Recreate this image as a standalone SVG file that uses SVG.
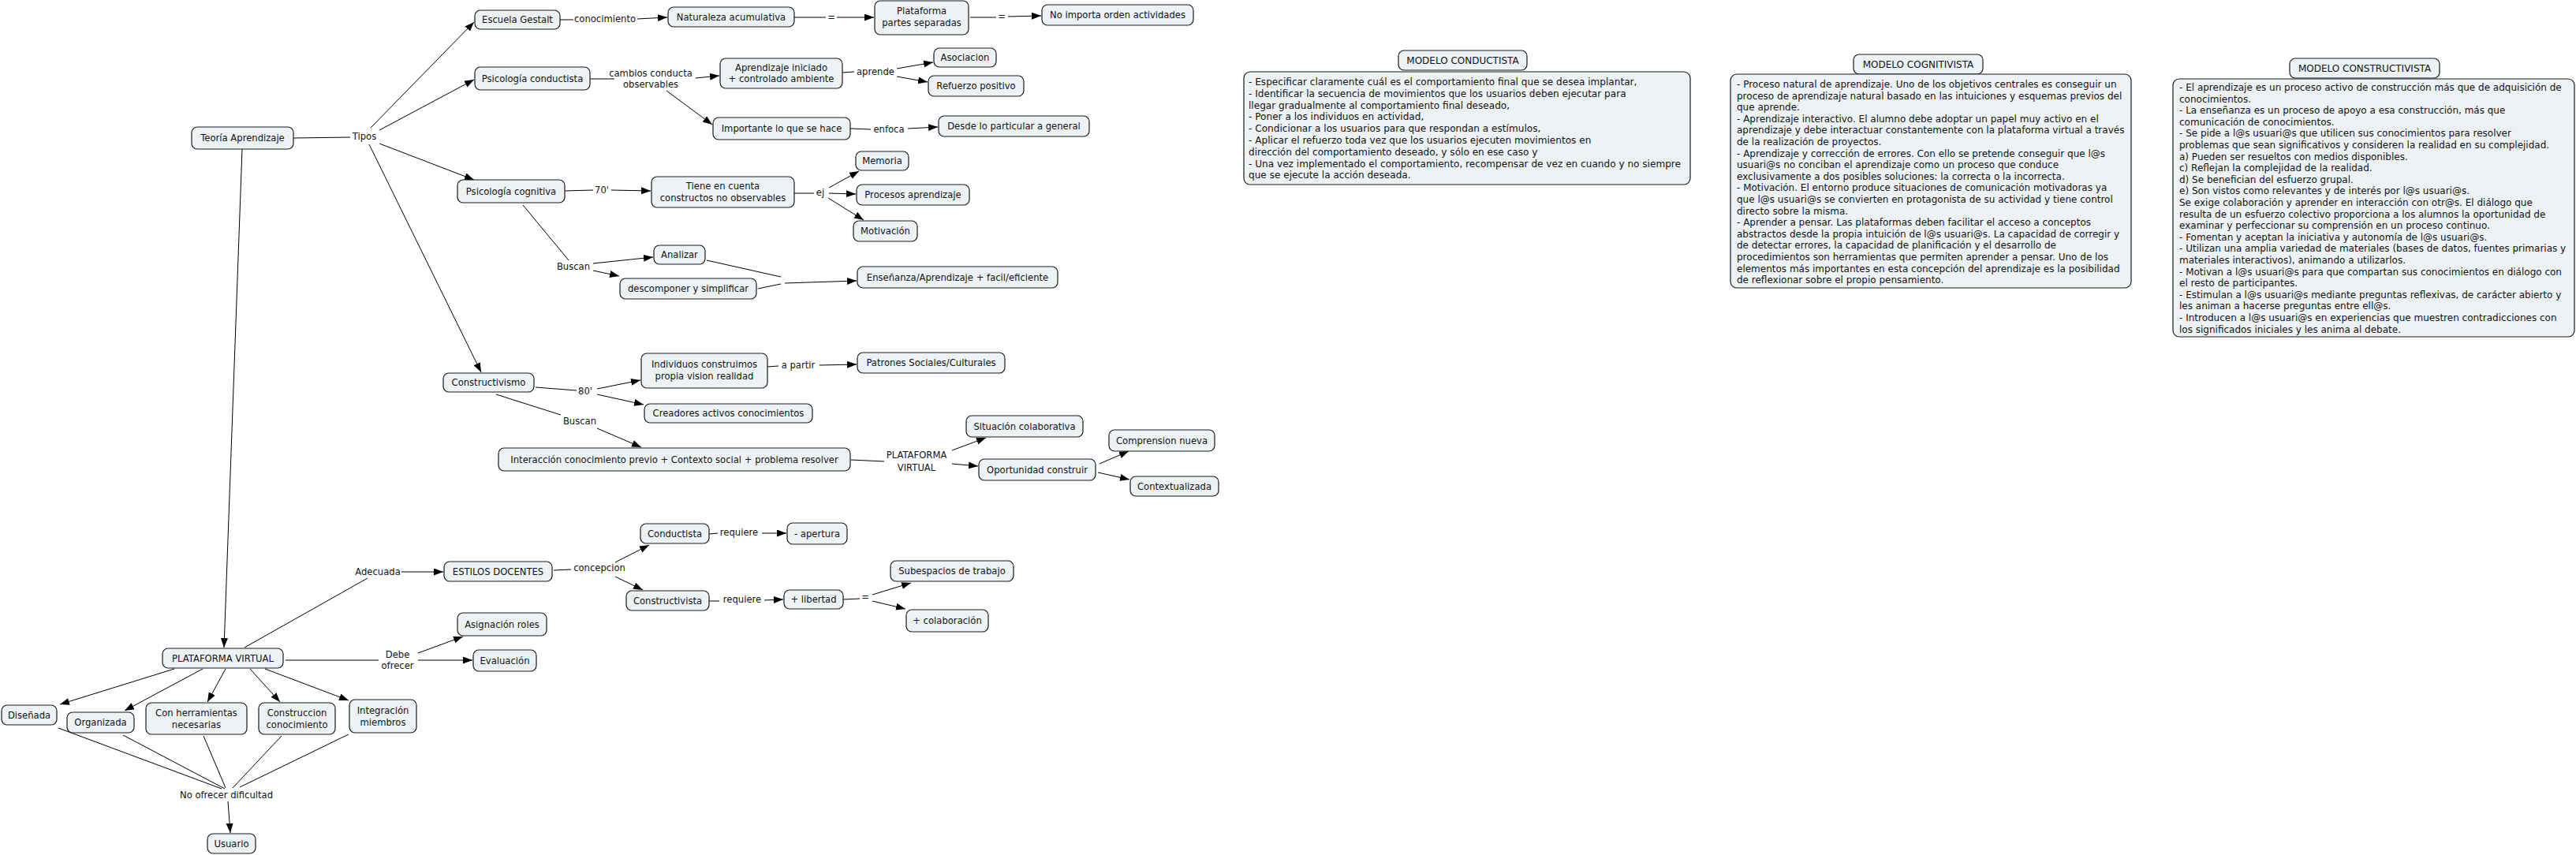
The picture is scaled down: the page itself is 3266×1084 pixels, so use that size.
<svg xmlns="http://www.w3.org/2000/svg" width="3266" height="1084" viewBox="0 0 3266 1084">
<defs>
<marker id="ah" markerUnits="userSpaceOnUse" markerWidth="13" markerHeight="10" refX="12" refY="4.5" orient="auto"><path d="M0,0 L12,4.5 L0,9 z" fill="#000"/></marker>
<style>
.n rect{fill:#edf3f5;stroke:#1a1a1a;stroke-width:1.2}
text{font-family:"DejaVu Sans",Verdana,sans-serif;fill:#111}
.n text,.l{font-size:11.6px;text-anchor:middle;dominant-baseline:central}
.n text.m{font-size:12px}
.n text.bt{font-size:12px;text-anchor:start}
.n text.bt2{font-size:12.1px;text-anchor:start}
#connectors line{stroke:#000;stroke-width:1}
#connectors .a{marker-end:url(#ah)}
</style>
</defs>
<rect width="3266" height="1084" fill="#fff"/>
<g id="connectors">
<line x1="372" y1="175" x2="444" y2="174"/>
<line x1="710" y1="25" x2="727" y2="25"/>
<line x1="1007" y1="22" x2="1047" y2="22"/>
<line x1="1230" y1="22" x2="1263" y2="22"/>
<line x1="748" y1="100" x2="779" y2="100"/>
<line x1="1068" y1="92" x2="1083" y2="91"/>
<line x1="1078" y1="163" x2="1104" y2="164"/>
<line x1="716" y1="242" x2="752" y2="241"/>
<line x1="1007" y1="245" x2="1032" y2="245"/>
<line x1="663" y1="260" x2="721" y2="330"/>
<line x1="896" y1="330" x2="990" y2="351"/>
<line x1="961" y1="366" x2="990" y2="360"/>
<line x1="679" y1="491" x2="731" y2="495"/>
<line x1="973" y1="465" x2="987" y2="464"/>
<line x1="629" y1="500" x2="711" y2="526"/>
<line x1="1079" y1="583" x2="1121" y2="585"/>
<line x1="310" y1="821" x2="466" y2="733"/>
<line x1="362" y1="837" x2="480" y2="837"/>
<line x1="74" y1="923" x2="281" y2="1000"/>
<line x1="156" y1="932" x2="285" y2="1000"/>
<line x1="258" y1="933" x2="286" y2="999"/>
<line x1="357" y1="933" x2="295" y2="999"/>
<line x1="442" y1="931" x2="304" y2="998"/>
<line x1="702" y1="723" x2="724" y2="722"/>
<line x1="899" y1="677" x2="910" y2="676"/>
<line x1="899" y1="762" x2="912" y2="762"/>
<line x1="1069" y1="760" x2="1090" y2="759"/>
<line class="a" x1="470" y1="162" x2="601" y2="28"/>
<line class="a" x1="481" y1="165" x2="601" y2="101"/>
<line class="a" x1="481" y1="182" x2="601" y2="228"/>
<line class="a" x1="468" y1="183" x2="610" y2="472"/>
<line class="a" x1="307" y1="189" x2="284" y2="821"/>
<line class="a" x1="808" y1="24" x2="846" y2="22"/>
<line class="a" x1="1061" y1="22" x2="1108" y2="22"/>
<line class="a" x1="1278" y1="21" x2="1320" y2="20"/>
<line class="a" x1="882" y1="99" x2="912" y2="96"/>
<line class="a" x1="845" y1="115" x2="903" y2="158"/>
<line class="a" x1="1137" y1="87" x2="1183" y2="79"/>
<line class="a" x1="1137" y1="97" x2="1176" y2="104"/>
<line class="a" x1="1151" y1="163" x2="1189" y2="161"/>
<line class="a" x1="775" y1="241" x2="825" y2="242"/>
<line class="a" x1="1051" y1="238" x2="1089" y2="217"/>
<line class="a" x1="1051" y1="245" x2="1085" y2="246"/>
<line class="a" x1="1050" y1="251" x2="1095" y2="279"/>
<line class="a" x1="752" y1="334" x2="828" y2="326"/>
<line class="a" x1="752" y1="343" x2="785" y2="350"/>
<line class="a" x1="995" y1="359" x2="1086" y2="356"/>
<line class="a" x1="757" y1="493" x2="812" y2="482"/>
<line class="a" x1="757" y1="500" x2="816" y2="513"/>
<line class="a" x1="1039" y1="463" x2="1086" y2="462"/>
<line class="a" x1="757" y1="543" x2="813" y2="567"/>
<line class="a" x1="1207" y1="571" x2="1250" y2="555"/>
<line class="a" x1="1207" y1="588" x2="1240" y2="591"/>
<line class="a" x1="1394" y1="588" x2="1431" y2="572"/>
<line class="a" x1="1392" y1="599" x2="1432" y2="608"/>
<line class="a" x1="509" y1="725" x2="562" y2="725"/>
<line class="a" x1="530" y1="828" x2="587" y2="807"/>
<line class="a" x1="530" y1="837" x2="599" y2="837"/>
<line class="a" x1="221" y1="848" x2="76" y2="893"/>
<line class="a" x1="257" y1="848" x2="158" y2="901"/>
<line class="a" x1="286" y1="848" x2="263" y2="890"/>
<line class="a" x1="317" y1="848" x2="355" y2="890"/>
<line class="a" x1="336" y1="848" x2="442" y2="888"/>
<line class="a" x1="289" y1="1016" x2="292" y2="1056"/>
<line class="a" x1="780" y1="713" x2="823" y2="691"/>
<line class="a" x1="780" y1="731" x2="815" y2="748"/>
<line class="a" x1="966" y1="676" x2="997" y2="676"/>
<line class="a" x1="969" y1="761" x2="993" y2="760"/>
<line class="a" x1="1106" y1="754" x2="1155" y2="739"/>
<line class="a" x1="1106" y1="762" x2="1148" y2="772"/>
</g>
<g id="link-labels">
<text class="l" x="462" y="173">Tipos</text>
<text class="l" x="767" y="24">conocimiento</text>
<text class="l" x="1054" y="22">=</text>
<text class="l" x="1270" y="21">=</text>
<text class="l" x="825" y="93">cambios conducta</text>
<text class="l" x="825" y="107">observables</text>
<text class="l" x="1110" y="91">aprende</text>
<text class="l" x="1127" y="164">enfoca</text>
<text class="l" x="763" y="241">70'</text>
<text class="l" x="1040" y="244">ej</text>
<text class="l" x="727" y="338">Buscan</text>
<text class="l" x="742" y="496">80'</text>
<text class="l" x="1012" y="463">a partir</text>
<text class="l" x="735" y="534">Buscan</text>
<text class="l" x="1162" y="577">PLATAFORMA</text>
<text class="l" x="1162" y="593">VIRTUAL</text>
<text class="l" x="479" y="725">Adecuada</text>
<text class="l" x="504" y="830">Debe</text>
<text class="l" x="504" y="844">ofrecer</text>
<text class="l" x="287" y="1008">No ofrecer dificultad</text>
<text class="l" x="760" y="720">concepcion</text>
<text class="l" x="937" y="675">requiere</text>
<text class="l" x="941" y="760">requiere</text>
<text class="l" x="1097" y="757">=</text>
</g>
<g id="n_teoria" class="n"><rect x="243" y="161" width="129" height="28" rx="7"/><text x="307.5" y="175">Teoría Aprendizaje</text></g>
<g id="n_gestalt" class="n"><rect x="602" y="13" width="108" height="24" rx="7"/><text x="656" y="25">Escuela Gestalt</text></g>
<g id="n_naturaleza" class="n"><rect x="847" y="9" width="160" height="25" rx="7"/><text x="927" y="21.5">Naturaleza acumulativa</text></g>
<g id="n_plataforma_sep" class="n"><rect x="1109" y="1" width="119" height="43" rx="7"/><text x="1168.5" y="14">Plataforma</text><text x="1168.5" y="29">partes separadas</text></g>
<g id="n_no_importa" class="n"><rect x="1321" y="6" width="192" height="26" rx="7"/><text x="1417" y="19">No importa orden actividades</text></g>
<g id="n_psic_cond" class="n"><rect x="602" y="85" width="146" height="29" rx="7"/><text x="675" y="99.5">Psicología conductista</text></g>
<g id="n_aprend_ini" class="n"><rect x="913" y="74" width="155" height="38" rx="7"/><text x="990.5" y="86">Aprendizaje iniciado</text><text x="990.5" y="100">+ controlado ambiente</text></g>
<g id="n_asociacion" class="n"><rect x="1184" y="61" width="79" height="24" rx="7"/><text x="1223.5" y="73">Asociacion</text></g>
<g id="n_refuerzo" class="n"><rect x="1177" y="96" width="121" height="26" rx="7"/><text x="1237.5" y="109">Refuerzo positivo</text></g>
<g id="n_importante" class="n"><rect x="904" y="149" width="174" height="28" rx="7"/><text x="991" y="163">Importante lo que se hace</text></g>
<g id="n_desde" class="n"><rect x="1190" y="147" width="191" height="26" rx="7"/><text x="1285.5" y="160">Desde lo particular a general</text></g>
<g id="n_psic_cog" class="n"><rect x="580" y="228" width="136" height="29" rx="7"/><text x="648" y="242.5">Psicología cognitiva</text></g>
<g id="n_tiene" class="n"><rect x="826" y="224" width="181" height="39" rx="7"/><text x="916.5" y="236">Tiene en cuenta</text><text x="916.5" y="251">constructos no observables</text></g>
<g id="n_memoria" class="n"><rect x="1085" y="192" width="67" height="24" rx="7"/><text x="1118.5" y="204">Memoria</text></g>
<g id="n_procesos" class="n"><rect x="1086" y="234" width="143" height="26" rx="7"/><text x="1157.5" y="247">Procesos aprendizaje</text></g>
<g id="n_motivacion" class="n"><rect x="1082" y="280" width="81" height="26" rx="7"/><text x="1122.5" y="293">Motivación</text></g>
<g id="n_analizar" class="n"><rect x="829" y="311" width="65" height="24" rx="7"/><text x="861.5" y="323">Analizar</text></g>
<g id="n_descomponer" class="n"><rect x="786" y="353" width="173" height="26" rx="7"/><text x="872.5" y="366">descomponer y simplificar</text></g>
<g id="n_ensenanza" class="n"><rect x="1087" y="338" width="254" height="27" rx="7"/><text x="1214" y="351.5">Enseñanza/Aprendizaje + facil/eficiente</text></g>
<g id="n_constructivismo" class="n"><rect x="562" y="473" width="115" height="24" rx="7"/><text x="619.5" y="485">Constructivismo</text></g>
<g id="n_individuos" class="n"><rect x="813" y="448" width="160" height="44" rx="7"/><text x="893" y="462">Individuos construimos</text><text x="893" y="477">propia vision realidad</text></g>
<g id="n_patrones" class="n"><rect x="1087" y="447" width="187" height="26" rx="7"/><text x="1180.5" y="460">Patrones Sociales/Culturales</text></g>
<g id="n_creadores" class="n"><rect x="817" y="512" width="213" height="24" rx="7"/><text x="923.5" y="524">Creadores activos conocimientos</text></g>
<g id="n_interaccion" class="n"><rect x="632" y="568" width="446" height="29" rx="7"/><text x="855" y="582.5">Interacción conocimiento previo + Contexto social + problema resolver</text></g>
<g id="n_situacion" class="n"><rect x="1225" y="527" width="148" height="27" rx="7"/><text x="1299" y="540.5">Situación colaborativa</text></g>
<g id="n_oportunidad" class="n"><rect x="1241" y="582" width="148" height="27" rx="7"/><text x="1315" y="595.5">Oportunidad construir</text></g>
<g id="n_comprension" class="n"><rect x="1406" y="545" width="134" height="27" rx="7"/><text x="1473" y="558.5">Comprension nueva</text></g>
<g id="n_contextualizada" class="n"><rect x="1433" y="604" width="112" height="25" rx="7"/><text x="1489" y="616.5">Contextualizada</text></g>
<g id="n_pv" class="n"><rect x="206" y="822" width="153" height="25" rx="7"/><text x="282.5" y="834.5">PLATAFORMA VIRTUAL</text></g>
<g id="n_estilos" class="n"><rect x="563" y="712" width="137" height="25" rx="7"/><text x="631.5" y="724.5">ESTILOS DOCENTES</text></g>
<g id="n_asignacion" class="n"><rect x="580" y="777" width="113" height="29" rx="7"/><text x="636.5" y="791.5">Asignación roles</text></g>
<g id="n_evaluacion" class="n"><rect x="600" y="824" width="80" height="27" rx="7"/><text x="640" y="837.5">Evaluación</text></g>
<g id="n_disenada" class="n"><rect x="2" y="894" width="70" height="25" rx="7"/><text x="37" y="906.5">Diseñada</text></g>
<g id="n_organizada" class="n"><rect x="85" y="903" width="85" height="26" rx="7"/><text x="127.5" y="916">Organizada</text></g>
<g id="n_herramientas" class="n"><rect x="185" y="891" width="128" height="40" rx="7"/><text x="249" y="904">Con herramientas</text><text x="249" y="919">necesarias</text></g>
<g id="n_construccion" class="n"><rect x="328" y="891" width="97" height="40" rx="7"/><text x="376.5" y="904">Construccion</text><text x="376.5" y="919">conocimiento</text></g>
<g id="n_integracion" class="n"><rect x="443" y="887" width="85" height="42" rx="7"/><text x="485.5" y="901">Integración</text><text x="485.5" y="916">miembros</text></g>
<g id="n_usuario" class="n"><rect x="263" y="1057" width="61" height="25" rx="7"/><text x="293.5" y="1069.5">Usuario</text></g>
<g id="n_conductista" class="n"><rect x="812" y="664" width="87" height="25" rx="7"/><text x="855.5" y="676.5">Conductista</text></g>
<g id="n_apertura" class="n"><rect x="998" y="663" width="76" height="27" rx="7"/><text x="1036" y="676.5">- apertura</text></g>
<g id="n_constructivista" class="n"><rect x="794" y="749" width="105" height="25" rx="7"/><text x="846.5" y="761.5">Constructivista</text></g>
<g id="n_libertad" class="n"><rect x="994" y="748" width="75" height="24" rx="7"/><text x="1031.5" y="760">+ libertad</text></g>
<g id="n_subespacios" class="n"><rect x="1129" y="711" width="156" height="26" rx="7"/><text x="1207" y="724">Subespacios de trabajo</text></g>
<g id="n_colaboracion" class="n"><rect x="1149" y="773" width="104" height="28" rx="7"/><text x="1201" y="787">+ colaboración</text></g>
<g id="m_cond_label" class="n"><rect x="1773" y="64" width="163" height="25" rx="7"/><text class="m" x="1854.5" y="76.5">MODELO CONDUCTISTA</text></g>
<g id="m_cond_box" class="n"><rect x="1577" y="91" width="566" height="143" rx="8"/>
<text class="bt2" x="1583" y="104"><tspan x="1583" y="104">- Especificar claramente cuál es el comportamiento final que se desea implantar,</tspan><tspan x="1583" y="118.8">- Identificar la secuencia de movimientos que los usuarios deben ejecutar para</tspan><tspan x="1583" y="133.6">llegar gradualmente al comportamiento final deseado,</tspan><tspan x="1583" y="148.4">- Poner a los individuos en actividad,</tspan><tspan x="1583" y="163.2">- Condicionar a los usuarios para que respondan a estímulos,</tspan><tspan x="1583" y="178">- Aplicar el refuerzo toda vez que los usuarios ejecuten movimientos en</tspan><tspan x="1583" y="192.8">dirección del comportamiento deseado, y sólo en ese caso y</tspan><tspan x="1583" y="207.6">- Una vez implementado el comportamiento, recompensar de vez en cuando y no siempre</tspan><tspan x="1583" y="222.4">que se ejecute la acción deseada.</tspan></text></g>
<g id="m_cog_label" class="n"><rect x="2350" y="69" width="164" height="25" rx="7"/><text class="m" x="2432" y="81.5">MODELO COGNITIVISTA</text></g>
<g id="m_cog_box" class="n"><rect x="2194" y="94" width="508" height="271" rx="8"/>
<text class="bt" x="2202" y="107"><tspan x="2202" y="107">- Proceso natural de aprendizaje. Uno de los objetivos centrales es conseguir un</tspan><tspan x="2202" y="121.6">proceso de aprendizaje natural basado en las intuiciones y esquemas previos del</tspan><tspan x="2202" y="136.2">que aprende.</tspan><tspan x="2202" y="150.8">- Aprendizaje interactivo. El alumno debe adoptar un papel muy activo en el</tspan><tspan x="2202" y="165.4">aprendizaje y debe interactuar constantemente con la plataforma virtual a través</tspan><tspan x="2202" y="180">de la realización de proyectos.</tspan><tspan x="2202" y="194.6">- Aprendizaje y corrección de errores. Con ello se pretende conseguir que l@s</tspan><tspan x="2202" y="209.2">usuari@s no conciban el aprendizaje como un proceso que conduce</tspan><tspan x="2202" y="223.8">exclusivamente a dos posibles soluciones: la correcta o la incorrecta.</tspan><tspan x="2202" y="238.4">- Motivación. El entorno produce situaciones de comunicación motivadoras ya</tspan><tspan x="2202" y="253">que l@s usuari@s se convierten en protagonista de su actividad y tiene control</tspan><tspan x="2202" y="267.6">directo sobre la misma.</tspan><tspan x="2202" y="282.2">- Aprender a pensar. Las plataformas deben facilitar el acceso a conceptos</tspan><tspan x="2202" y="296.8">abstractos desde la propia intuición de l@s usuari@s. La capacidad de corregir y</tspan><tspan x="2202" y="311.4">de detectar errores, la capacidad de planificación y el desarrollo de</tspan><tspan x="2202" y="326">procedimientos son herramientas que permiten aprender a pensar. Uno de los</tspan><tspan x="2202" y="340.6">elementos más importantes en esta concepción del aprendizaje es la posibilidad</tspan><tspan x="2202" y="355.2">de reflexionar sobre el propio pensamiento.</tspan></text></g>
<g id="m_cons_label" class="n"><rect x="2903" y="74" width="190" height="25" rx="7"/><text class="m" x="2998" y="86.5">MODELO CONSTRUCTIVISTA</text></g>
<g id="m_cons_box" class="n"><rect x="2755" y="100" width="509" height="327" rx="8"/>
<text class="bt" x="2763" y="111"><tspan x="2763" y="111">- El aprendizaje es un proceso activo de construcción más que de adquisición de</tspan><tspan x="2763" y="125.6">conocimientos.</tspan><tspan x="2763" y="140.2">- La enseñanza es un proceso de apoyo a esa construcción, más que</tspan><tspan x="2763" y="154.8">comunicación de conocimientos.</tspan><tspan x="2763" y="169.4">- Se pide a l@s usuari@s que utilicen sus conocimientos para resolver</tspan><tspan x="2763" y="184">problemas que sean significativos y consideren la realidad en su complejidad.</tspan><tspan x="2763" y="198.6">a) Pueden ser resueltos con medios disponibles.</tspan><tspan x="2763" y="213.2">c) Reflejan la complejidad de la realidad.</tspan><tspan x="2763" y="227.8">d) Se benefician del esfuerzo grupal.</tspan><tspan x="2763" y="242.4">e) Son vistos como relevantes y de interés por l@s usuari@s.</tspan><tspan x="2763" y="257">Se exige colaboración y aprender en interacción con otr@s. El diálogo que</tspan><tspan x="2763" y="271.6">resulta de un esfuerzo colectivo proporciona a los alumnos la oportunidad de</tspan><tspan x="2763" y="286.2">examinar y perfeccionar su comprensión en un proceso continuo.</tspan><tspan x="2763" y="300.8">- Fomentan y aceptan la iniciativa y autonomía de l@s usuari@s.</tspan><tspan x="2763" y="315.4">- Utilizan una amplia variedad de materiales (bases de datos, fuentes primarias y</tspan><tspan x="2763" y="330">materiales interactivos), animando a utilizarlos.</tspan><tspan x="2763" y="344.6">- Motivan a l@s usuari@s para que compartan sus conocimientos en diálogo con</tspan><tspan x="2763" y="359.2">el resto de participantes.</tspan><tspan x="2763" y="373.8">- Estimulan a l@s usuari@s mediante preguntas reflexivas, de carácter abierto y</tspan><tspan x="2763" y="388.4">les animan a hacerse preguntas entre ell@s.</tspan><tspan x="2763" y="403">- Introducen a l@s usuari@s en experiencias que muestren contradicciones con</tspan><tspan x="2763" y="417.6">los significados iniciales y les anima al debate.</tspan></text></g>
</svg>
